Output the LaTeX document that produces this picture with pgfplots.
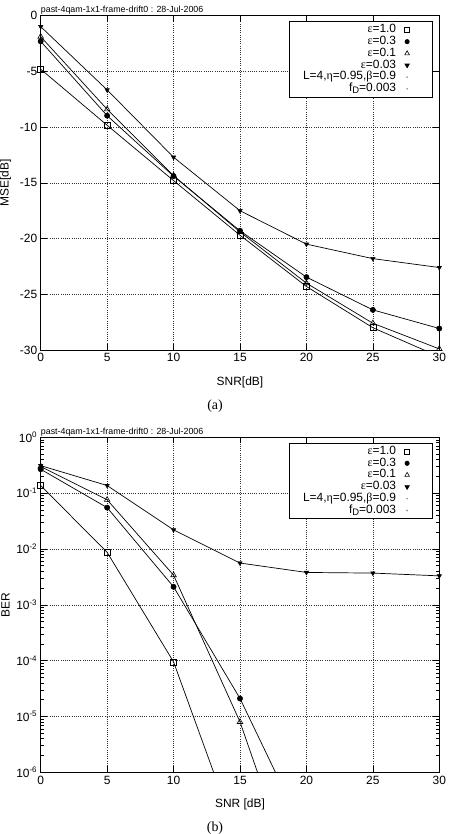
\documentclass[border=0pt]{standalone}
\usepackage{fontspec}
\setmainfont{Liberation Sans}
\newfontfamily\symf{Liberation Serif}
\usepackage{pgfplots}
\usepackage{pgfplotstable}
\pgfplotsset{compat=1.18}

\newcommand{\gk}[1]{{\symf #1}}

% MSE [dB] versus SNR [dB]
\pgfplotstableread{
snr  e1     e03     e01     e003
0    -4.8   -2.3    -1.88   -0.98
5    -9.83  -8.97   -8.4    -6.66
10   -14.8  -14.4   -14.35  -12.7
15   -19.7  -19.3   -19.4   -17.5
20   -24.3  -23.46  -24.0   -20.5
25   -28.0  -26.4   -27.6   -21.8
30   -30.6  -28.07  -29.9   -22.6
}\msedata

% BER versus SNR [dB]
\pgfplotstableread{
snr  e1      e03     e01     e003
0    0.137   0.268   0.30    0.311
5    0.0087  0.055   0.076   0.137
10   9.5e-5  0.0021  0.0034  0.022
15   5e-8    2.1e-5  8e-6    0.0056
20   nan     7e-8    3e-9    0.0038
25   nan     nan     nan     0.0037
30   nan     nan     nan     0.0033
}\berdata

\pgfplotsset{
  gp/.style={
    scale only axis, width=398.6bp,
    xmin=0, xmax=30,
    xtick={0,5,10,15,20,25,30},
    xticklabels={0,5,10,15,20,25,30},
    tick align=inside,
    major tick length=6bp, minor tick length=3bp,
    tick style={black, line width=0.6bp},
    axis line style={black, line width=1bp},
    grid=major,
    major grid style={black!80, line width=0.6bp, dash pattern=on 0.8bp off 1.4bp},
    tick label style={font=\fontsize{12}{14}\selectfont},
    label style={font=\fontsize{12}{14}\selectfont},
    x label style={at={(axis description cs:0.5,-0.096)}, anchor=center},
    y label style={at={(axis description cs:-0.088,0.5)}, anchor=center},
    legend style={at={(rel axis cs:0.983,0.984)}, anchor=north east,
      draw=black, line width=0.8bp,
      font=\fontsize{12}{12}\selectfont,
      inner xsep=14bp, inner ysep=2.5bp, row sep=0bp, column sep=0bp,
      nodes={inner xsep=0bp, inner ysep=0bp, text height=8.8bp, text depth=3bp}},
    legend cell align=right,
    legend plot pos=right,
    legend image code/.code={
      \path[draw=none, fill=none] (0bp,0bp) -- (22bp,0bp);
      \draw[##1, draw=none] plot coordinates {(11bp,0bp)};
    },
  },
  ln/.style={black, line width=0.7bp, mark=none, forget plot},
  mk/.style={black, only marks, forget plot, mark options={solid, line width=0.6bp}},
  legsq/.style={only marks, black, mark=square, mark size=2.4bp, mark options={draw=black, line width=0.6bp}},
  legci/.style={only marks, black, mark=*, mark size=2.1bp, mark options={draw=black, fill=black}},
  legtr/.style={only marks, black, mark=triangle, mark size=2.7bp, mark options={draw=black, line width=0.6bp}},
  legdt/.style={only marks, black, mark=triangle*, mark size=2.4bp, mark options={draw=black, fill=black, rotate=180}},
  legdot/.style={only marks, black!45, mark=*, mark size=0.35bp, mark options={draw=black!45, fill=black!45}},
}

\begin{document}
\begin{tikzpicture}
\useasboundingbox (0,0) rectangle (454bp,-834bp);

% ---------- (a) MSE ----------
\begin{axis}[gp,
  at={(40.7bp,-350bp)}, anchor=south west,
  height=334.3bp,
  ymin=-30, ymax=0,
  ytick={-30,-25,-20,-15,-10,-5,0},
  yticklabels={-30,-25,-20,-15,-10,-5,0},
  xlabel={SNR[dB]}, ylabel={MSE[dB]},
]
\addplot[ln] table[y=e1]{\msedata};
\addplot[ln] table[y=e03]{\msedata};
\addplot[ln] table[y=e01]{\msedata};
\addplot[ln] table[y=e003]{\msedata};
\addplot[mk, mark=square, mark size=3bp, restrict y to domain=-30.05:0.05] table[y=e1]{\msedata};
\addplot[mk, mark=*, mark size=2.6bp, restrict y to domain=-30.05:0.05] table[y=e03]{\msedata};
\addplot[mk, mark=triangle, mark size=3.2bp, restrict y to domain=-30.05:0.05] table[y=e01]{\msedata};
\addplot[mk, mark=triangle*, mark size=2.6bp, mark options={rotate=180}, restrict y to domain=-30.05:0.05] table[y=e003]{\msedata};

\addlegendimage{legsq}
\addlegendentry{\gk{ε}=1.0}
\addlegendimage{legci}
\addlegendentry{\gk{ε}=0.3}
\addlegendimage{legtr}
\addlegendentry{\gk{ε}=0.1}
\addlegendimage{legdt}
\addlegendentry{\gk{ε}=0.03}
\addlegendimage{legdot}
\addlegendentry{L=4,\gk{η}=0.95,\gk{β}=0.9}
\addlegendimage{legdot}
\addlegendentry{f\raisebox{-0.35ex}{\fontsize{9.5}{9.5}\selectfont D}=0.003}
\end{axis}

% ---------- (b) BER ----------
\begin{axis}[gp,
  at={(40.7bp,-772.3bp)}, anchor=south west,
  height=335bp,
  ymode=log,
  ymin=1e-6, ymax=1,
  ytick={1e-6,1e-5,1e-4,1e-3,1e-2,1e-1,1},
  yticklabels={10\textsuperscript{-6},10\textsuperscript{-5},10\textsuperscript{-4},10\textsuperscript{-3},10\textsuperscript{-2},10\textsuperscript{-1},10\textsuperscript{0}},
  minor ytick={2e-6,3e-6,4e-6,5e-6,6e-6,7e-6,8e-6,9e-6,
               2e-5,3e-5,4e-5,5e-5,6e-5,7e-5,8e-5,9e-5,
               2e-4,3e-4,4e-4,5e-4,6e-4,7e-4,8e-4,9e-4,
               2e-3,3e-3,4e-3,5e-3,6e-3,7e-3,8e-3,9e-3,
               2e-2,3e-2,4e-2,5e-2,6e-2,7e-2,8e-2,9e-2,
               2e-1,3e-1,4e-1,5e-1,6e-1,7e-1,8e-1,9e-1},
  xlabel={SNR [dB]}, ylabel={BER},
]
\addplot[ln] table[y=e1]{\berdata};
\addplot[ln] table[y=e03]{\berdata};
\addplot[ln] table[y=e01]{\berdata};
\addplot[ln] table[y=e003]{\berdata};
\addplot[mk, mark=square, mark size=3bp, restrict y to domain=-13.9:0.1] table[y=e1]{\berdata};
\addplot[mk, mark=*, mark size=2.6bp, restrict y to domain=-13.9:0.1] table[y=e03]{\berdata};
\addplot[mk, mark=triangle, mark size=3.2bp, restrict y to domain=-13.9:0.1] table[y=e01]{\berdata};
\addplot[mk, mark=triangle*, mark size=2.6bp, mark options={rotate=180}, restrict y to domain=-13.9:0.1] table[y=e003]{\berdata};

\addlegendimage{legsq}
\addlegendentry{\gk{ε}=1.0}
\addlegendimage{legci}
\addlegendentry{\gk{ε}=0.3}
\addlegendimage{legtr}
\addlegendentry{\gk{ε}=0.1}
\addlegendimage{legdt}
\addlegendentry{\gk{ε}=0.03}
\addlegendimage{legdot}
\addlegendentry{L=4,\gk{η}=0.95,\gk{β}=0.9}
\addlegendimage{legdot}
\addlegendentry{f\raisebox{-0.35ex}{\fontsize{9.5}{9.5}\selectfont D}=0.003}
\end{axis}

% plot titles and sub-captions
\node[anchor=base west, inner sep=0pt, font=\fontsize{8.9}{10}\selectfont] at (40.7bp,-12.3bp) {past-4qam-1x1-frame-drift0 : 28-Jul-2006};
\node[anchor=base west, inner sep=0pt, font=\fontsize{8.9}{10}\selectfont] at (40.7bp,-434bp) {past-4qam-1x1-frame-drift0 : 28-Jul-2006};
\node[font=\symf\fontsize{14}{16}\selectfont] at (215bp,-406bp) {(a)};
\node[font=\symf\fontsize{14}{16}\selectfont] at (215bp,-828bp) {(b)};
\end{tikzpicture}
\end{document}
